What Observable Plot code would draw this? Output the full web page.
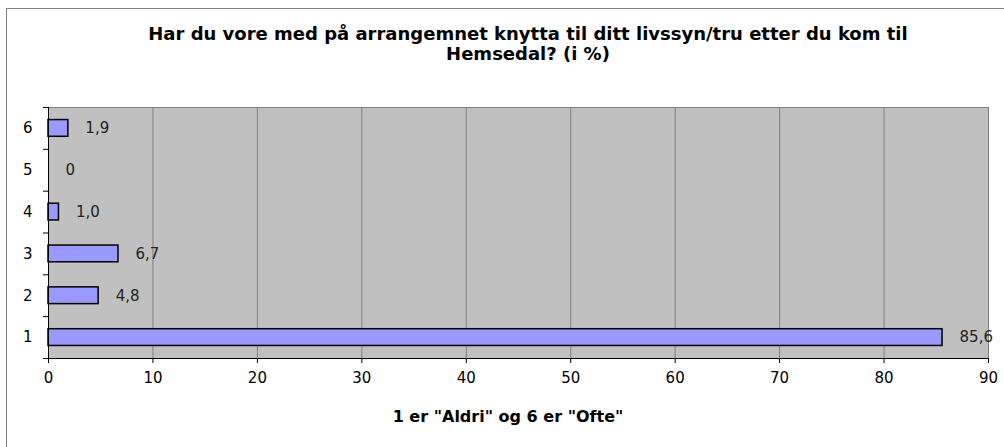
<!DOCTYPE html>
<html>
<head>
<meta charset="utf-8">
<script src="https://cdn.jsdelivr.net/npm/d3@7"></script>
<script src="https://cdn.jsdelivr.net/npm/@observablehq/plot@0.6"></script>
<style>
  html, body { margin: 0; padding: 0; background: #fff; overflow: hidden; }
  #wrap { position: relative; width: 1004px; height: 447px; overflow: hidden; font-family: "DejaVu Sans", Verdana, sans-serif; }
  #border { position: absolute; left: 6px; top: 8px; width: 1100px; height: 600px; border: 1px solid #808080; box-sizing: border-box; }
  #chart { position: absolute; left: 0; top: 0; }
  .t { position: absolute; font-weight: bold; color: #000; text-align: center; white-space: nowrap; }
</style>
</head>
<body>
<div id="wrap">
  <div id="border"></div>
  <div id="chart"></div>
  <div class="t" id="title"></div>
  <div class="t" id="xtitle"></div>
</div>
<script>
const titleLines = ["Har du vore med på arrangemnet knytta til ditt livssyn/tru etter du kom til", "Hemsedal? (i %)"];
const xAxisTitle = '1 er "Aldri" og 6 er "Ofte"';
const categories = [1, 2, 3, 4, 5, 6];
const values = [85.6, 4.8, 6.7, 1.0, 0, 1.9];
const xTicks = [0, 10, 20, 30, 40, 50, 60, 70, 80, 90];

const data = categories.map((c, i) => ({cat: c, value: values[i]}));
const fmt = v => v === 0 ? "0" : v.toFixed(1).replace(".", ",");
const boundaries = d3.range(0.5, 6.6, 1);

const W = 1004, H = 447;
const plot = Plot.plot({
  width: W,
  height: H,
  marginLeft: 48,
  marginRight: 16,
  marginTop: 107,
  marginBottom: 89,
  style: {fontFamily: '"DejaVu Sans", Verdana, sans-serif', fontSize: "15px", color: "#000", background: "transparent"},
  x: {domain: [0, 90], ticks: xTicks},
  y: {domain: [0.5, 6.5]},
  marks: [
    Plot.frame({fill: "#c0c0c0", stroke: "#808080"}),
    Plot.ruleX(xTicks.filter(t => t > 0 && t < 90), {stroke: "#808080", strokeWidth: 1}),
    Plot.rectX(data, {x1: 0, x2: "value", y1: d => d.cat - 0.2, y2: d => d.cat + 0.2, fill: "#9999ff", stroke: "#000", strokeWidth: 1.5}),
    Plot.text(data, {x: "value", y: "cat", text: d => fmt(d.value), dx: 17, textAnchor: "start", fill: "#222", fontSize: 15}),
    Plot.ruleX([0], {stroke: "#000"}),
    Plot.ruleY([0.5], {stroke: "#000"}),
    Plot.axisX({ticks: xTicks, tickSize: 5, tickPadding: 9, label: null, tickFormat: d => String(d), stroke: "#000"}),
    Plot.axisY({ticks: categories, tickSize: 0, tickPadding: 16, label: null, tickFormat: d => String(d)}),
    Plot.axisY({ticks: boundaries, tickSize: 5, text: null, label: null, stroke: "#000"})
  ]
});
document.getElementById("chart").appendChild(plot);

const title = document.getElementById("title");
title.innerHTML = titleLines.map(s => s.replace(/&/g, "&amp;").replace(/</g, "&lt;")).join("<br>");
title.style.fontSize = "18px";
title.style.lineHeight = "20px";
title.style.left = "528px";
title.style.top = "24px";
title.style.transform = "translateX(-50%)";

const xt = document.getElementById("xtitle");
xt.textContent = xAxisTitle;
xt.style.fontSize = "16px";
xt.style.lineHeight = "16px";
xt.style.left = "508px";
xt.style.top = "409px";
xt.style.transform = "translateX(-50%)";
</script>
</body>
</html>
